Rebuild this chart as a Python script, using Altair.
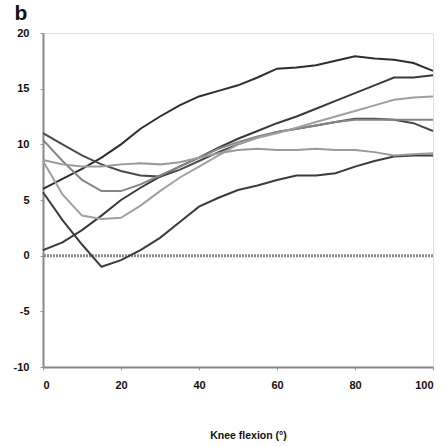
import altair as alt
import pandas as pd

knee = [0, 5, 10, 15, 20, 25, 30, 35, 40, 45, 50, 55, 60, 65, 70, 75, 80, 85, 90, 95, 100]

s_a = [6.0, 6.9, 7.8, 8.8, 10.0, 11.4, 12.5, 13.5, 14.3, 14.8, 15.3, 16.0, 16.8, 16.9, 17.1, 17.5, 17.9, 17.7, 17.6, 17.3, 16.6]
s_b = [0.5, 1.2, 2.3, 3.6, 5.0, 6.1, 7.1, 8.0, 8.8, 9.7, 10.5, 11.2, 11.9, 12.5, 13.2, 13.9, 14.6, 15.3, 16.0, 16.0, 16.2]
s_c = [5.7, 3.2, 1.0, -1.0, -0.4, 0.5, 1.6, 3.0, 4.4, 5.2, 5.9, 6.3, 6.8, 7.2, 7.2, 7.4, 8.0, 8.5, 8.9, 9.0, 9.0]
s_d = [11.0, 10.0, 9.0, 8.2, 7.6, 7.2, 7.1, 7.7, 8.5, 9.3, 10.0, 10.6, 11.1, 11.4, 11.7, 12.0, 12.3, 12.3, 12.2, 11.9, 11.2]
s_e = [10.4, 8.5, 6.8, 5.8, 5.8, 6.4, 7.2, 8.0, 8.8, 9.6, 10.2, 10.7, 11.1, 11.4, 11.7, 12.0, 12.2, 12.2, 12.2, 12.2, 12.2]
s_f = [8.5, 5.5, 3.6, 3.3, 3.4, 4.5, 5.8, 7.0, 8.0, 9.0, 10.0, 10.6, 11.0, 11.5, 12.0, 12.5, 13.0, 13.5, 14.0, 14.2, 14.3]
s_g = [8.6, 8.2, 8.0, 8.0, 8.2, 8.3, 8.2, 8.4, 8.8, 9.2, 9.5, 9.6, 9.5, 9.5, 9.6, 9.5, 9.5, 9.3, 9.0, 9.1, 9.2]

series = {"A": s_a, "B": s_b, "C": s_c, "D": s_d, "E": s_e, "F": s_f, "G": s_g}
names = list(series.keys())
colors = ["#2e2e2e", "#3a3a3a", "#3c3c3c", "#4a4a4a", "#858585", "#a0a0a0", "#9a9a9a"]

rows = []
for n, vals in series.items():
    for xv, yv in zip(knee, vals):
        rows.append({"s": n, "x": xv, "y": yv})
df = pd.DataFrame(rows)

font = "Liberation Sans"

xscale = alt.Scale(domain=[0, 100], nice=False, zero=False)
yscale = alt.Scale(domain=[-10, 20], nice=False, zero=False)

lines = alt.Chart(df).mark_line(strokeWidth=2).encode(
    x=alt.X("x:Q", scale=xscale, axis=alt.Axis(
        values=[0, 20, 40, 60, 80, 100], title="Knee flexion (°)", grid=False,
        domainColor="#888", domainWidth=2, tickColor="#999", tickSize=3, tickWidth=1,
        labelFont=font, labelFontSize=11, labelFontWeight="bold", labelColor="#111",
        labelPadding=9, titleFont=font, titleFontSize=10.5, titleFontWeight="bold",
        titleColor="#111", titlePadding=40, titleX=205, titleAnchor="middle")),
    y=alt.Y("y:Q", scale=yscale, axis=alt.Axis(
        values=[-10, -5, 0, 5, 10, 15, 20], title=None, grid=False,
        labelExpr="'' + datum.value",
        domainColor="#888", domainWidth=2, tickColor="#999", tickSize=3, tickWidth=1,
        labelFont=font, labelFontSize=11, labelFontWeight="bold", labelColor="#111",
        labelPadding=11)),
    color=alt.Color("s:N", scale=alt.Scale(domain=names, range=colors), legend=None),
    detail="s:N",
)

zero = alt.Chart(pd.DataFrame({"y": [0]})).mark_rule(
    color="#8c8c8c", strokeWidth=3, strokeDash=[2, 1]
).encode(y=alt.Y("y:Q", scale=yscale))

label_b = alt.Chart(pd.DataFrame({"t": ["b"]})).mark_text(
    font=font, fontSize=21, fontWeight="bold", color="#111", align="center", baseline="middle"
).encode(text="t:N", x=alt.value(-22), y=alt.value(-19))

chart = alt.layer(zero, lines, label_b).properties(
    width=390, height=334,
    autosize=alt.AutoSizeParams(type="none"),
    padding={"left": 43, "top": 33, "right": 10, "bottom": 79},
).configure_view(stroke=None).configure(background="white")

chart.save("out.html", embed_options={"renderer": "svg", "actions": False})
